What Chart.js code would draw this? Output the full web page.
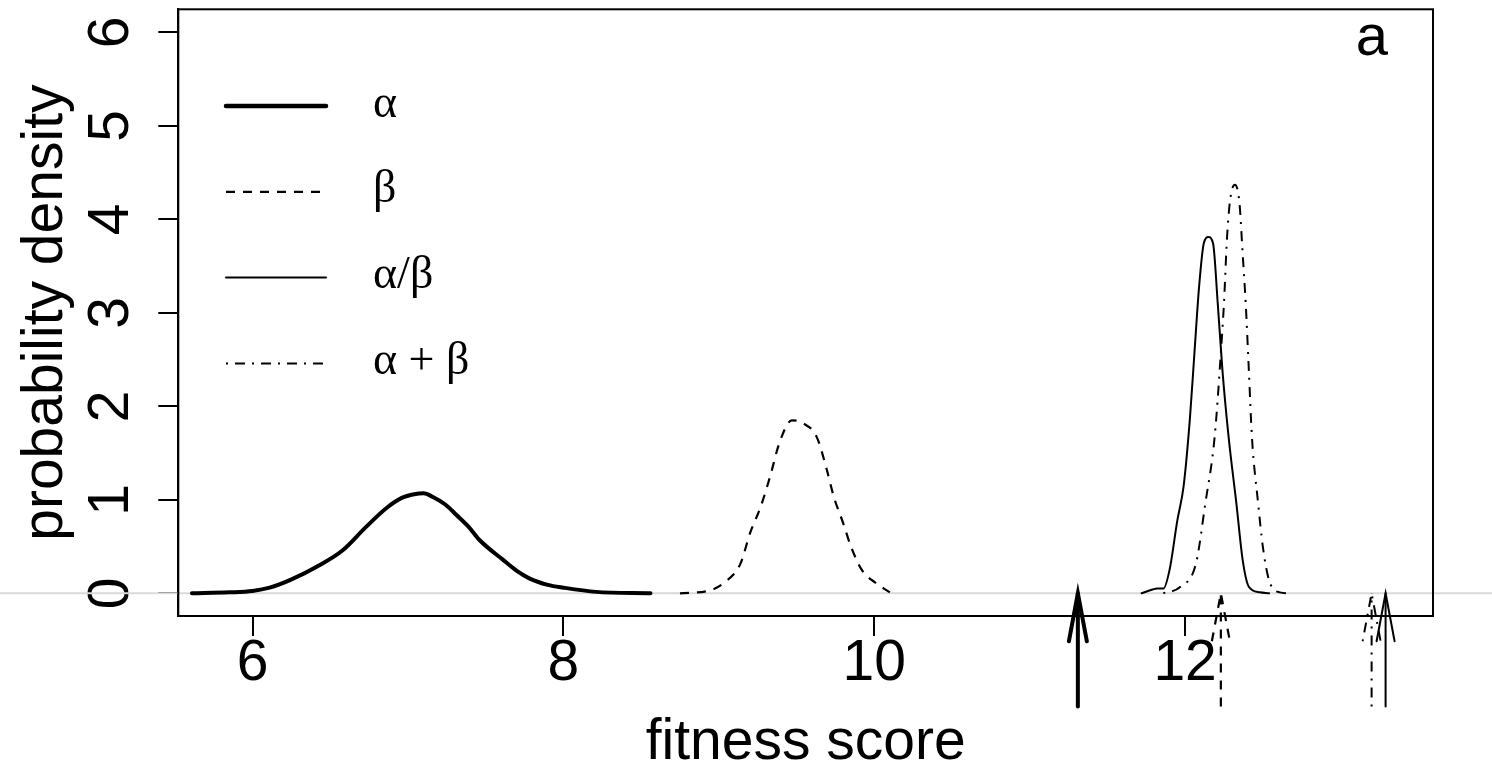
<!DOCTYPE html>
<html>
<head>
<meta charset="utf-8">
<script src="https://cdn.jsdelivr.net/npm/chart.js@4.4.1/dist/chart.umd.min.js"></script>
<style>
  body { margin: 0; background: #fff; }
  canvas { display: block; }
</style>
</head>
<body>
<canvas id="densityChart" width="1492" height="772"></canvas>
<script>
// fitness score densities
const alphaX = [5.61, 5.85, 6.00, 6.11, 6.24, 6.43, 6.58, 6.73, 6.86, 6.96, 7.04, 7.10, 7.16, 7.24, 7.31, 7.39, 7.46, 7.61, 7.70, 7.78, 7.90, 8.00, 8.21, 8.56];
const alphaY = [0, 0.01, 0.025, 0.06, 0.14, 0.30, 0.46, 0.71, 0.91, 1.02, 1.06, 1.07, 1.03, 0.95, 0.84, 0.71, 0.57, 0.36, 0.24, 0.16, 0.09, 0.06, 0.015, 0];

const betaX = [8.75, 8.94, 9.04, 9.14, 9.20, 9.27, 9.33, 9.39, 9.47, 9.54, 9.63, 9.69, 9.74, 9.80, 9.85, 9.92, 10.01, 10.10];
const betaY = [0, 0.03, 0.12, 0.32, 0.64, 0.93, 1.25, 1.61, 1.85, 1.82, 1.67, 1.35, 1.03, 0.75, 0.50, 0.25, 0.11, 0.01];

const ratioX = [11.72, 11.79, 11.82, 11.86, 11.90, 11.95, 11.99, 12.03, 12.06, 12.09, 12.12, 12.15, 12.18, 12.21, 12.24, 12.28, 12.33, 12.37, 12.41, 12.48, 12.54];
const ratioY = [0, 0.04, 0.05, 0.05, 0.25, 0.78, 1.14, 1.85, 2.57, 3.28, 3.74, 3.81, 3.74, 3.10, 2.39, 1.67, 0.96, 0.36, 0.07, 0.01, 0];

const sumX = [11.86, 11.97, 12.07, 12.13, 12.19, 12.23, 12.25, 12.27, 12.29, 12.32, 12.35, 12.37, 12.39, 12.41, 12.43, 12.47, 12.50, 12.54, 12.61, 12.67];
const sumY = [0, 0.07, 0.32, 0.96, 1.67, 2.57, 3.10, 3.81, 4.21, 4.37, 4.17, 3.64, 3.10, 2.39, 1.67, 0.96, 0.50, 0.14, 0.01, 0];

const seriesLabels = ['α', 'β', 'α/β', 'α + β'];
const arrowValues = [11.31, 12.23, 13.29, 13.20];
const arrowBase = -1.21;

const xTicks = [6, 8, 10, 12];
const yTicks = [0, 1, 2, 3, 4, 5, 6];

const toPoints = (xs, ys) => xs.map((x, i) => ({x: x, y: ys[i]}));

Chart.defaults.font.family = "'Liberation Sans', Arial, sans-serif";
Chart.defaults.color = '#000';

function makeSet(label, xs, ys, width, dash) {
  return {
    label: label,
    data: toPoints(xs, ys),
    showLine: true,
    borderColor: '#000',
    backgroundColor: '#000',
    borderWidth: width,
    borderDash: dash,
    borderCapStyle: dash.length ? 'butt' : 'round',
    borderJoinStyle: 'round',
    pointRadius: 0,
    tension: 0.4,
    cubicInterpolationMode: 'monotone',
    fill: false
  };
}

// zero line, frame, arrows, legend, panel letter
const extras = {
  id: 'extras',
  beforeDatasetsDraw(chart) {
    const ctx = chart.ctx;
    const y0 = chart.scales.y.getPixelForValue(0);
    ctx.save();
    ctx.strokeStyle = '#d9d9d9';
    ctx.lineWidth = 2;
    ctx.beginPath();
    ctx.moveTo(0, y0);
    ctx.lineTo(chart.width, y0);
    ctx.stroke();
    ctx.restore();
  },
  afterDraw(chart) {
    const ctx = chart.ctx;
    const area = chart.chartArea;
    const xs = chart.scales.x, ys = chart.scales.y;
    ctx.save();

    ctx.strokeStyle = '#000';
    ctx.lineWidth = 2;
    ctx.strokeRect(area.left, area.top, area.right - area.left, area.bottom - area.top);

    // arrows below the axis
    const tipY = ys.getPixelForValue(0);
    const baseY = ys.getPixelForValue(arrowBase);
    chart.data.datasets.forEach((ds, i) => {
      const px = xs.getPixelForValue(arrowValues[i]);
      ctx.lineWidth = ds.borderWidth;
      ctx.setLineDash(ds.borderDash);
      ctx.lineCap = ds.borderDash.length ? 'butt' : 'round';
      ctx.beginPath();
      ctx.moveTo(px, baseY);
      ctx.lineTo(px, tipY);
      ctx.stroke();
      ctx.beginPath();
      ctx.moveTo(px - 9, tipY + 48);
      ctx.lineTo(px, tipY);
      ctx.lineTo(px + 9, tipY + 48);
      ctx.stroke();
    });

    // legend
    const legX = 226, legW = 100, legTop = 106, legStep = 85.8;
    chart.data.datasets.forEach((ds, i) => {
      const ly = legTop + i * legStep;
      ctx.lineWidth = i === 0 ? 4.5 : ds.borderWidth;
      ctx.setLineDash(ds.borderDash);
      ctx.lineCap = ds.borderDash.length ? 'butt' : 'round';
      ctx.beginPath();
      ctx.moveTo(legX, ly);
      ctx.lineTo(legX + legW, ly);
      ctx.stroke();
      ctx.setLineDash([]);
      ctx.fillStyle = '#000';
      ctx.font = "46px 'Liberation Serif', 'Times New Roman', serif";
      ctx.textAlign = 'left';
      ctx.textBaseline = 'alphabetic';
      ctx.fillText(ds.label, 373, ly + 10.5);
    });

    ctx.font = "58px 'Liberation Sans', Arial, sans-serif";
    ctx.textAlign = 'center';
    ctx.fillText('a', 1372, 55);
    ctx.restore();
  }
};

const config = {
  type: 'scatter',
  data: {
    datasets: [
      makeSet(seriesLabels[0], alphaX, alphaY, 4, []),
      makeSet(seriesLabels[1], betaX, betaY, 2.2, [9, 8]),
      makeSet(seriesLabels[2], ratioX, ratioY, 2, []),
      makeSet(seriesLabels[3], sumX, sumY, 2, [2, 7, 10, 7])
    ]
  },
  options: {
    responsive: false,
    animation: false,
    devicePixelRatio: 1,
    layout: { padding: { top: 9.3, right: 59, left: 0, bottom: 0 } },
    plugins: {
      legend: { display: false },
      tooltip: { enabled: false }
    },
    scales: {
      x: {
        type: 'linear',
        min: 5.522,
        max: 13.595,
        afterBuildTicks: s => { s.ticks = xTicks.map(v => ({value: v})); },
        afterFit: s => { s.height = 156; s.paddingLeft = 0; s.paddingRight = 0; },
        grid: {
          display: true,
          drawOnChartArea: false,
          drawTicks: true,
          tickLength: 20,
          color: '#000',
          lineWidth: 2
        },
        border: { display: true, color: '#000', width: 2 },
        ticks: {
          autoSkip: false,
          maxRotation: 0,
          padding: 0,
          color: '#000',
          font: { size: 57, lineHeight: 1 },
          callback: v => String(v)
        },
        title: {
          display: true,
          text: 'fitness score',
          color: '#000',
          padding: { top: 0, bottom: 0.5 },
          font: { size: 57, lineHeight: 1 }
        }
      },
      y: {
        type: 'linear',
        min: -0.243,
        max: 6.246,
        afterBuildTicks: s => { s.ticks = yTicks.map(v => ({value: v})); },
        afterFit: s => { s.width = 178.3; s.paddingTop = 0; s.paddingBottom = 0; },
        grid: {
          display: true,
          drawOnChartArea: false,
          drawTicks: true,
          tickLength: 20,
          color: '#000',
          lineWidth: 2
        },
        border: { display: true, color: '#000', width: 2 },
        ticks: {
          autoSkip: false,
          minRotation: 90,
          maxRotation: 90,
          crossAlign: 'center',
          padding: 30,
          color: '#000',
          font: { size: 57, lineHeight: 1 },
          callback: v => String(v)
        },
        title: {
          display: true,
          text: 'probability density',
          color: '#000',
          padding: { top: 17.5, bottom: 0 },
          font: { size: 57, lineHeight: 1 }
        }
      }
    }
  },
  plugins: [extras]
};

const densityChart = new Chart(document.getElementById('densityChart'), config);
</script>
</body>
</html>
